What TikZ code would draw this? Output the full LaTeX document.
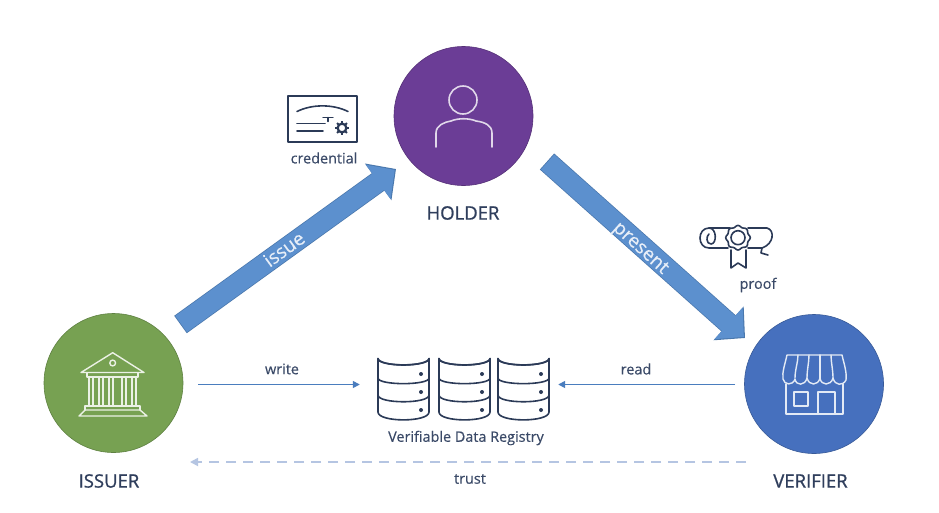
\documentclass[tikz,border=0pt]{standalone}
\usepackage{fontspec}
\setmainfont[RawFeature={embolden=0.35}]{Open Sans}
\newfontfamily\rolefont[RawFeature={embolden=1}]{Open Sans}
\usetikzlibrary{arrows.meta}
\definecolor{navy}{HTML}{2B3A57}
\definecolor{txt}{HTML}{2F3E5C}
\definecolor{labelc}{HTML}{3B4A68}
\definecolor{bigblue}{HTML}{5C90CE}
\definecolor{bigedge}{HTML}{4A78AD}
\definecolor{thinblue}{HTML}{4A7DBE}
\definecolor{dashc}{HTML}{B5C5E2}
\definecolor{purp}{HTML}{6B3D96}
\definecolor{grn}{HTML}{77A152}
\definecolor{blu}{HTML}{4670BE}
\tikzset{
  x=1pt,y=-1pt,
  hub/.style={circle,draw=#1!80!black,line width=.6pt,fill=#1,minimum size=139pt,inner sep=0pt},
  role/.style={font=\rolefont\fontsize{18.5}{20}\selectfont,text=txt},
  small/.style={font=\fontsize{14.4}{16}\selectfont,text=labelc},
  bigarrowedge/.style={draw=bigedge,line width=21.5pt,-{Triangle[length=22pt,width=44pt,fill=bigedge]}},
  bigarrow/.style={draw=bigblue,line width=20pt,shorten >=1.5pt,shorten <=.8pt,-{Triangle[length=20.5pt,width=41pt,fill=bigblue]}},
  onarrow/.style={font=\fontsize{19}{20}\selectfont,text=white!85!bigblue},
  thin/.style={draw=thinblue,line width=1.5pt,-{Triangle[length=7pt,width=7pt]}},
  dashline/.style={draw=dashc,line width=1.7pt,dash pattern=on 10pt off 7pt,-{Triangle[length=8pt,width=8pt]}},
  icon/.style={draw=navy,line width=1.6pt,line join=round,line cap=round},
  pale/.style={draw=#1,line width=1.4pt,line join=round,line cap=round},
}
\newcommand{\cyl}[1]{%
  \begin{scope}[shift={(#1,0)}]
    \draw[icon] (0,358.5) arc[start angle=180,end angle=0,x radius=25.5,y radius=6.5] -- (51,412)
      .. controls (51,422.5) and (0,422.5) .. (0,412) -- cycle;
    \draw[icon] (0,358.5) .. controls (0,367) and (51,367) .. (51,358.5);
    \draw[icon] (0,378) .. controls (0,385.5) and (51,385.5) .. (51,378);
    \draw[icon] (0,395) .. controls (0,404) and (51,404) .. (51,395);
    \fill[navy] (43,374) circle (2) (43,392) circle (2) (43,410) circle (2);
  \end{scope}}
\begin{document}
\begin{tikzpicture}
\useasboundingbox[fill=white] (0,0) rectangle (939,512);
% hubs
\node[hub=purp] (holder) at (463.5,116) {};
\node[hub=grn] (issuer) at (113.5,383) {};
\node[hub=blu] (verifier) at (814,384) {};
\node[role] (holderlabel) at (463,213) {HOLDER};
\node[role] (issuerlabel) at (109,481) {ISSUER};
\node[role] (verifierlabel) at (810.5,481) {VERIFIER};
% registry
\node[minimum width=198pt,minimum height=10pt,inner sep=0pt] (registry) at (459,384.5) {};
\cyl{378}\cyl{439}\cyl{498}
\node[small] (registrylabel) at (466,438) {Verifiable Data Registry};
% big arrows
\coordinate (issueS) at (180.5,324.5);
\coordinate (issueE) at (396,169);
\coordinate (presentS) at (547,161.5);
\coordinate (presentE) at (745,338);
\draw[bigarrowedge] (issueS) -- (issueE);
\draw[bigarrowedge] (presentS) -- (presentE);
\draw[bigarrow] (issueS) -- (issueE);
\draw[bigarrow] (presentS) -- (presentE);
\node[onarrow,rotate=36] (issuetext) at (284,249) {issue};
\node[onarrow,rotate=-42] (presenttext) at (640,249) {present};
% thin arrows
\draw[thin,shorten <=15pt] (issuer.east |- registry.west) -- (registry.west);
\draw[thin,shorten <=9pt] (verifier.west |- registry.east) -- (registry.east);
\node[small] (writelabel) at (282,369) {write};
\node[small] (readlabel) at (636,369) {read};
\coordinate (trustS) at (746,462);
\coordinate (trustE) at (190,462);
\draw[dashline] (trustS) -- (trustE);
\node[small] (trustlabel) at (470,479) {trust};
\node[small] (credlabel) at (324,158) {credential};
\node[small] (prooflabel) at (758,285) {proof};
% credential icon
\draw[icon,line width=1.9pt,line cap=butt] (288,96) rectangle (357,142);
\draw[icon] (297,111.5) .. controls (312,104) and (333,104) .. (348,111.5);
\draw[icon] (297,123.5) -- (325,123.5) (297,131) -- (323,131);
\draw[icon,line width=1.4pt] (323,117.5) -- (333,117.5) (328,117.5) -- (328,121.5);
\draw[navy,line width=2.3pt] (342,128) circle (4.4);
\foreach \a in {0,45,...,315}{\draw[navy,line width=1.8pt] (342,128) ++(\a:5) -- ++(\a:2);}
% person icon
\draw[pale=white!80!purp,line width=1.6pt] (463,100) circle (14);
\draw[pale=white!80!purp,line width=1.6pt] (436,147) -- (436,133) .. controls (436,125) and (445,122) .. (451,121)
  .. controls (458,118) and (469,118) .. (476,121) .. controls (484,122) and (492,125) .. (492,133) -- (492,147);
% bank icon
\draw[pale=white!85!grn] (81,372.5) -- (112.7,352.7) -- (144,372.5) -- cycle;
\draw[pale=white!85!grn] (112.7,363) circle (2.9);
\draw[pale=white!85!grn] (87,373) -- (87,377) -- (138,377) -- (138,373);
\foreach \xa/\xb in {89/93,99/103,109/113,122/126,132/136}{
  \draw[pale=white!85!grn] (\xa,377) -- (\xa,405) (\xb,377) -- (\xb,405);}
\draw[pale=white!85!grn] (85,410) -- (85,406) -- (140,406) -- (140,410);
\draw[pale=white!85!grn] (79,416) -- (85,410) -- (140,410) -- (147,416) -- cycle;
% store icon
\draw[pale=white!85!blu] (787,355) -- (842,355) .. controls (844,364) and (847,372) .. (846,380)
  .. controls (843,386) and (835,386) .. (833,378)
  .. controls (831,386) and (821,386) .. (820,378)
  .. controls (818,386) and (809,386) .. (807,378)
  .. controls (805,386) and (796,386) .. (795,379)
  .. controls (793,386) and (784,385) .. (783,379) .. controls (782,372) and (785,364) .. (787,355) -- cycle;
\foreach \xa/\xb in {798/795,809/807,820/820,831/833}{
  \draw[pale=white!85!blu] (\xa,355) .. controls (\xa,362) and (\xb,370) .. (\xb,378);}
\draw[pale=white!85!blu] (786,384) -- (786,414) -- (843,414) -- (843,384);
\draw[pale=white!85!blu] (794,392) rectangle (808,406);
\draw[pale=white!85!blu] (818,414) -- (818,392) -- (835,392) -- (835,414);
% proof icon
\draw[icon] (730,228) -- (709,228) .. controls (697,228) and (697,248) .. (709,248) -- (728,248);
\draw[icon] (709,228) .. controls (717,228) and (717,244) .. (711,244) .. controls (706,244) and (706,236) .. (709,234);
\draw[icon] (748,228) -- (767,228) .. controls (775,230) and (774,244) .. (762,248) -- (748,248);
\draw[icon] (762,248) -- (761,253) -- (768,255);
\draw[icon] (731,250) -- (731,268) -- (738,263) -- (746,268) -- (746,250);
\draw[icon,fill=white] plot[smooth cycle,samples=48,domain=0:352.5,variable=\t] ({738+(11.5+.8*cos(8*\t))*cos(\t)},{237.7+(11.5+.8*cos(8*\t))*sin(\t)});
\draw[icon] (738,237.7) circle (7);
\end{tikzpicture}
\end{document}
